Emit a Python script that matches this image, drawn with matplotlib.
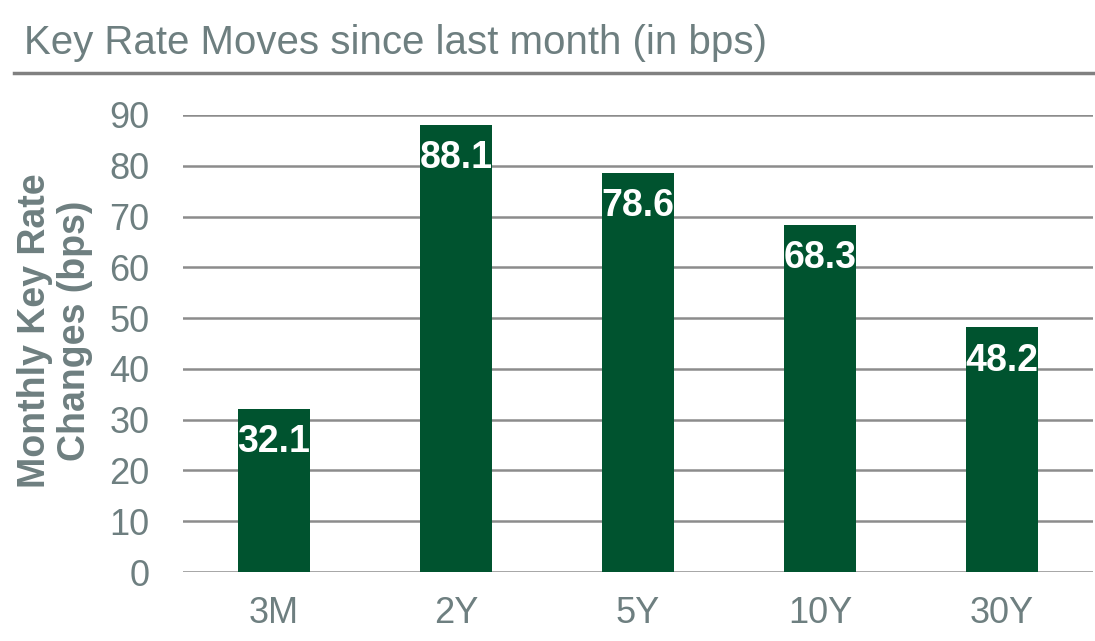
import matplotlib
matplotlib.use("Agg")
import matplotlib.pyplot as plt

# data
tenors = ["3M", "2Y", "5Y", "10Y", "30Y"]
moves = [32.1, 88.1, 78.6, 68.3, 48.2]
yticks = [0, 10, 20, 30, 40, 50, 60, 70, 80, 90]

plt.rcParams["font.family"] = ["Liberation Sans", "DejaVu Sans"]
gris = "#6E7F80"
vert = "#00532F"

fig = plt.figure(figsize=(10.95, 6.41), dpi=100)
ax = fig.add_axes([0.1671, 0.1076, 0.831, 0.713])

x = range(len(tenors))
bars = ax.bar(x, moves, width=0.4, color=vert, zorder=3)

# etiquettes dans les barres
for b, v in zip(bars, moves):
    ax.annotate("%.1f" % v, (b.get_x() + b.get_width() / 2, v),
                xytext=(0, -11), textcoords="offset points",
                ha="center", va="top", color="white",
                fontsize=27, fontweight="bold", zorder=4)

ax.set_xlim(-0.5, len(tenors) - 0.5)
ax.set_ylim(0, 90)
ax.set_yticks(yticks)
ax.set_xticks(list(x))
ax.set_xticklabels(tenors)
ax.tick_params(axis="both", length=0, labelsize=26, labelcolor=gris)
ax.tick_params(axis="y", pad=24)
ax.tick_params(axis="x", pad=17)
ax.yaxis.grid(True, color="#8C8C8C", linewidth=1.8, zorder=0)
for s in ax.spines.values():
    s.set_visible(False)

# titre de l'axe y (deux lignes)
fig.text(0.050, 0.484, "Monthly Key Rate\nChanges (bps)", rotation=90,
         ha="center", va="center", fontsize=27, fontweight="bold",
         color=gris, linespacing=1.15)

# titre + trait
fig.text(0.022, 0.915, "Key Rate Moves since last month (in bps)",
         fontsize=29, color=gris, ha="left", va="baseline")
fig.add_artist(plt.Line2D([0.013, 1.0], [0.886, 0.886], color="#808080",
                          linewidth=2.5, transform=fig.transFigure))

plt.savefig("out.png", dpi=100)
